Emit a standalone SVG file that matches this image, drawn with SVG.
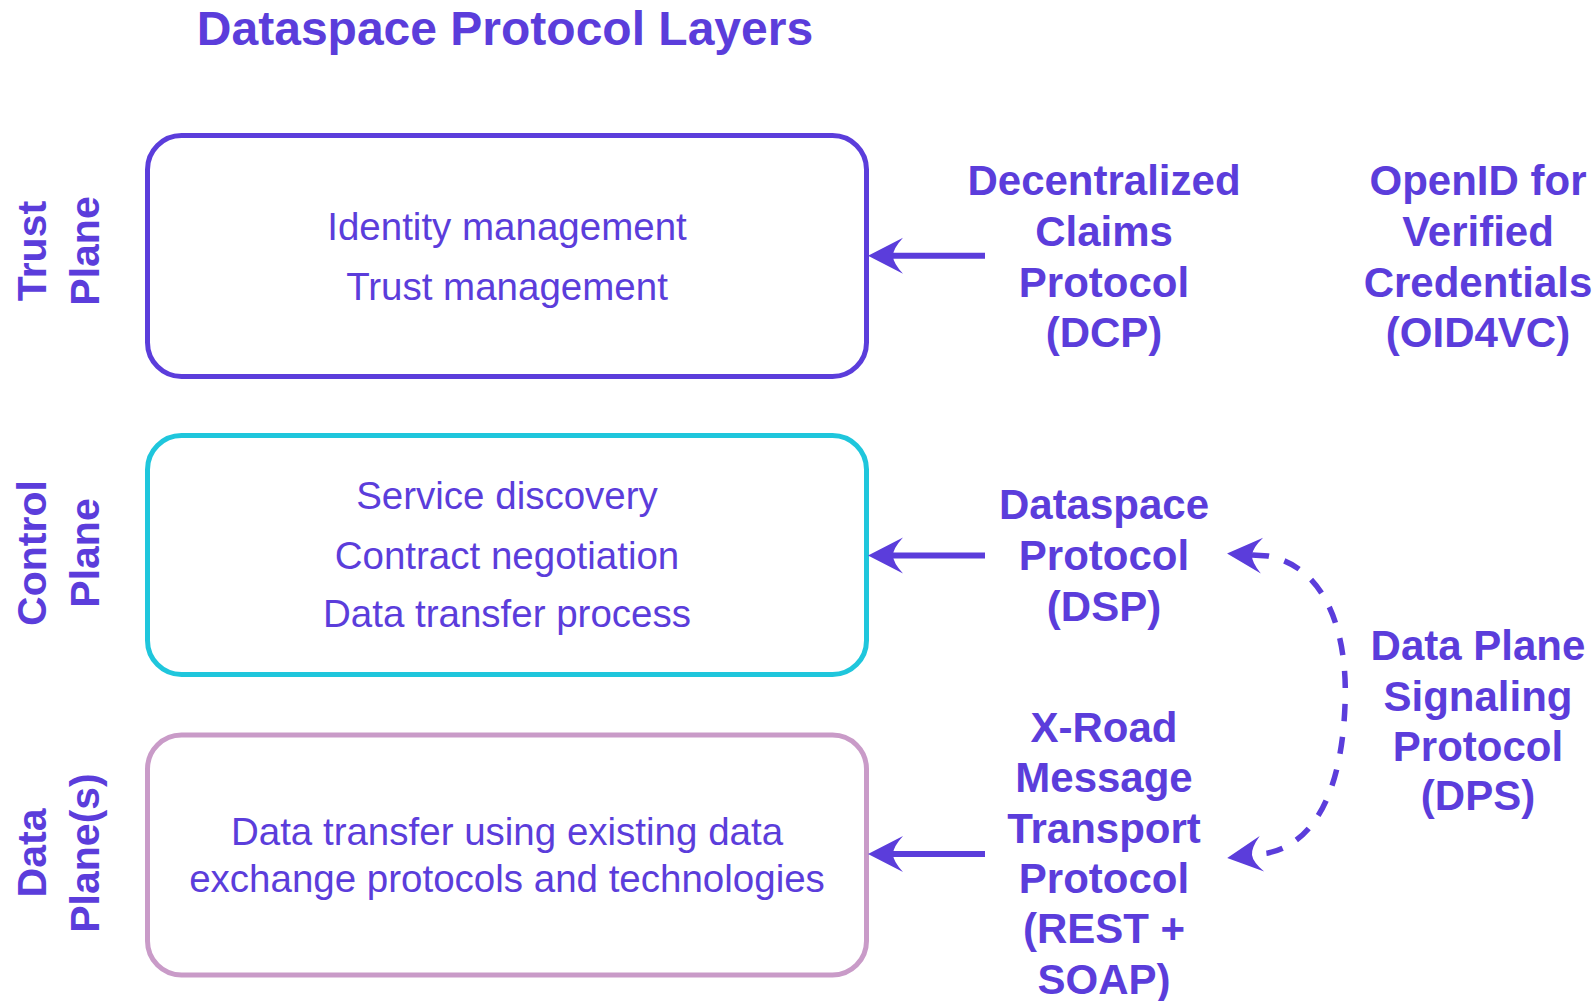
<svg xmlns="http://www.w3.org/2000/svg" width="1596" height="1001" viewBox="0 0 1596 1001">
<style>
text { font-family: "Liberation Sans", Arial, Helvetica, sans-serif; fill: #5b3ddb; }
.title { font-size: 48px; font-weight: bold; text-anchor: middle; }
.body { font-size: 38.5px; text-anchor: middle; }
.side { font-size: 41px; font-weight: bold; text-anchor: middle; }
.proto { font-size: 42px; font-weight: bold; text-anchor: middle; }
.box { fill: #ffffff; stroke-width: 5; }
.conn { fill: none; stroke: #5b3ddb; stroke-width: 6; }
.dash { fill: none; stroke: #5b3ddb; stroke-width: 5.5; stroke-dasharray: 17 16; }
</style>
<defs>
<marker id="ah" viewBox="-12 -20 40 40" markerUnits="userSpaceOnUse" markerWidth="40" markerHeight="40" refX="0" refY="0" orient="auto-start-reverse" overflow="visible">
<path d="M25,0 L-10,-18 Q0,-7 0,0 Q0,7 -10,18 Z" fill="#5b3ddb"/>
</marker>
</defs>
<rect width="1596" height="1001" fill="#ffffff"/>
<text class="title" x="505" y="45">Dataspace Protocol Layers</text>

<g id="trust-plane">
<rect class="box" x="147.5" y="135.5" width="719" height="241" rx="34" stroke="#5b3ddb"/>
<text class="body" x="507" y="240">Identity management</text>
<text class="body" x="507" y="300">Trust management</text>
<text class="side" transform="translate(46,251) rotate(-90)">Trust</text>
<text class="side" transform="translate(99,251) rotate(-90)">Plane</text>
</g>

<g id="control-plane">
<rect class="box" x="147.5" y="435.5" width="719" height="239" rx="34" stroke="#1fc6dc"/>
<text class="body" x="507" y="509">Service discovery</text>
<text class="body" x="507" y="569">Contract negotiation</text>
<text class="body" x="507" y="627">Data transfer process</text>
<text class="side" transform="translate(46,553) rotate(-90)">Control</text>
<text class="side" transform="translate(99,553) rotate(-90)">Plane</text>
</g>

<g id="data-plane">
<rect class="box" x="147.5" y="735" width="719" height="240" rx="34" stroke="#c99bc8"/>
<text class="body" x="507" y="845">Data transfer using existing data</text>
<text class="body" x="507" y="892">exchange protocols and technologies</text>
<text class="side" transform="translate(46,853) rotate(-90)">Data</text>
<text class="side" transform="translate(99,853) rotate(-90)">Plane(s)</text>
</g>

<g id="dcp">
<text class="proto" x="1104" y="195">Decentralized</text>
<text class="proto" x="1104" y="246">Claims</text>
<text class="proto" x="1104" y="296.5">Protocol</text>
<text class="proto" x="1104" y="347">(DCP)</text>
</g>

<g id="oid4vc">
<text class="proto" x="1478" y="195">OpenID for</text>
<text class="proto" x="1478" y="246">Verified</text>
<text class="proto" x="1478" y="296.5">Credentials</text>
<text class="proto" x="1478" y="347">(OID4VC)</text>
</g>

<g id="dsp">
<text class="proto" x="1104" y="519">Dataspace</text>
<text class="proto" x="1104" y="570">Protocol</text>
<text class="proto" x="1104" y="620.5">(DSP)</text>
</g>

<g id="dps">
<text class="proto" x="1478" y="660">Data Plane</text>
<text class="proto" x="1478" y="710.5">Signaling</text>
<text class="proto" x="1478" y="761">Protocol</text>
<text class="proto" x="1478" y="810">(DPS)</text>
</g>

<g id="xroad">
<text class="proto" x="1104" y="742">X-Road</text>
<text class="proto" x="1104" y="792.3">Message</text>
<text class="proto" x="1104" y="842.6">Transport</text>
<text class="proto" x="1104" y="892.9">Protocol</text>
<text class="proto" x="1104" y="943.2">(REST +</text>
<text class="proto" x="1104" y="993.5">SOAP)</text>
</g>

<g id="connectors">
<path class="conn" d="M985,255.7 L893,255.7" marker-end="url(#ah)"/>
<path class="conn" d="M985,555.5 L893,555.5" marker-end="url(#ah)"/>
<path class="conn" d="M985,854 L893,854" marker-end="url(#ah)"/>
<path class="dash" d="M1252,555 L1268,556 C1330,568 1348,640 1345,705 C1342,785 1318,842 1268,853 L1252,855" marker-start="url(#ah)" marker-end="url(#ah)"/>
</g>
</svg>
